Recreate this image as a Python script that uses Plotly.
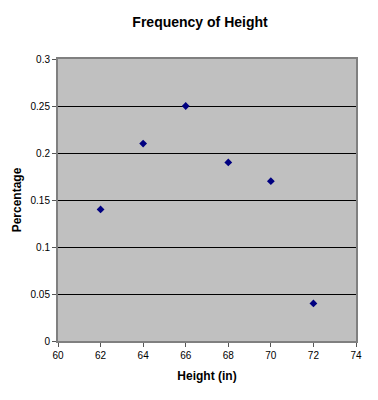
import plotly.graph_objects as go

heights = [62, 64, 66, 68, 70, 72]
percentages = [0.14, 0.21, 0.25, 0.19, 0.17, 0.04]
x_ticks = [60, 62, 64, 66, 68, 70, 72, 74]
y_ticks = [0, 0.05, 0.1, 0.15, 0.2, 0.25, 0.3]
y_labels = ["0", "0.05", "0.1", "0.15", "0.2", "0.25", "0.3"]

fig = go.Figure(go.Scatter(
    x=heights, y=percentages, mode="markers",
    marker=dict(symbol="diamond", size=6, color="#000080"),
))

fig.update_layout(
    width=370, height=392,
    margin=dict(l=50, r=22, t=51, b=59),
    paper_bgcolor="white", plot_bgcolor="#c0c0c0",
    showlegend=False,
    title=dict(text="<b>Frequency of Height</b>", x=0.519, xanchor="center",
               y=0.964, yanchor="middle",
               font=dict(family="Liberation Sans, Arial", size=14, color="black")),
    font=dict(family="Liberation Sans, Arial", size=10, color="black"),
)
fig.update_xaxes(
    range=[60, 74], tickvals=x_ticks, ticks="outside", ticklen=4,
    tickcolor="#555", showgrid=False, zeroline=False, automargin=False,
    showline=True, linecolor="#808080", linewidth=2, mirror=True,
    title=dict(text="<b>Height (in)</b>", font=dict(size=12), standoff=12),
)
fig.update_yaxes(
    range=[0, 0.3], tickvals=y_ticks, ticktext=y_labels, ticks="outside", ticklen=4,
    tickcolor="#555", showgrid=True, gridcolor="black", gridwidth=1, zeroline=False,
    automargin=False,
    showline=True, linecolor="#808080", linewidth=2, mirror=True,
    title=dict(text="<b>Percentage</b>", font=dict(size=12), standoff=6),
)

fig.write_html("out.html")
